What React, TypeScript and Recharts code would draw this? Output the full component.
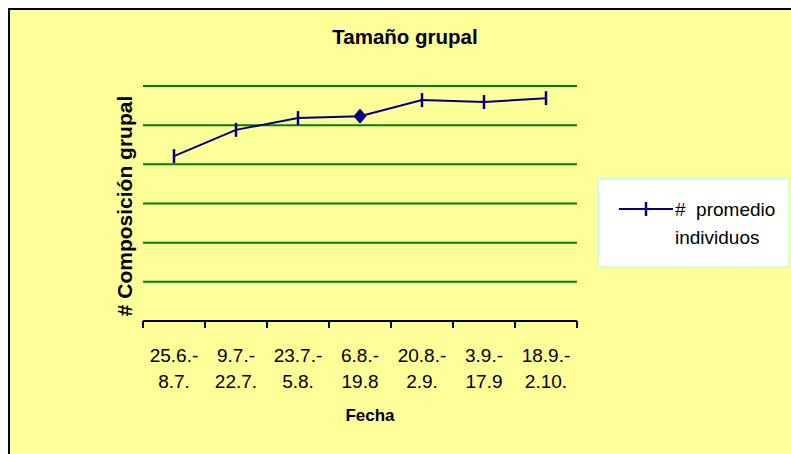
import React from 'react';
import { LineChart, Line, XAxis, YAxis, CartesianGrid } from 'recharts';

const periodStart = ['25.6.-', '9.7.-', '23.7.-', '6.8.-', '20.8.-', '3.9.-', '18.9.-'];
const periodEnd = ['8.7.', '22.7.', '5.8.', '19.8', '2.9.', '17.9', '2.10.'];
const promedioIndividuos = [4.21, 4.88, 5.18, 5.23, 5.64, 5.59, 5.69];
const yTicks = [0, 1, 2, 3, 4, 5, 6];

const NAVY = '#000080';
const FONT = '"Liberation Sans", Arial, sans-serif';

// category i sits in the middle of the band [i, i+1]
const data = promedioIndividuos.map((v, i) => ({
  pos: i + 0.5,
  promedio: v,
}));

// boundaries get a tick mark, band centres get the two-line label
const xTicks: number[] = [];
for (let i = 0; i <= periodStart.length; i++) {
  xTicks.push(i);
  if (i < periodStart.length) xTicks.push(i + 0.5);
}

const renderTick = (props: any) => {
  const { x, y, payload } = props;
  const v = payload.value;
  if (Number.isInteger(v)) {
    return <line x1={x} y1={y} x2={x} y2={y + 7} stroke="#000" strokeWidth={2} />;
  }
  const i = Math.floor(v);
  return (
    <text x={x} y={y} textAnchor="middle" fontSize={19} fontFamily={FONT} fill="#000">
      <tspan x={x} dy={41}>{periodStart[i]}</tspan>
      <tspan x={x} dy={26}>{periodEnd[i]}</tspan>
    </text>
  );
};

const renderDot = (props: any) => {
  const { cx, cy, index } = props;
  if (index === 3) {
    return (
      <polygon
        key={`d${index}`}
        points={`${cx},${cy - 7} ${cx + 6},${cy} ${cx},${cy + 7} ${cx - 6},${cy}`}
        fill={NAVY}
        stroke={NAVY}
      />
    );
  }
  return <line key={`d${index}`} x1={cx} y1={cy - 7} x2={cx} y2={cy + 7} stroke={NAVY} strokeWidth={2.5} />;
};

export default function App() {
  return (
    <div
      style={{
        position: 'absolute',
        left: 8,
        top: 8,
        width: 783,
        height: 446,
        boxSizing: 'border-box',
        borderLeft: '2px solid #000',
        borderTop: '2px solid #000',
        background: '#FFFF99',
        fontFamily: FONT,
        overflow: 'hidden',
      }}
    >
      <div
        style={{
          position: 'absolute',
          left: 395,
          top: 17,
          transform: 'translateX(-50%)',
          fontSize: 20.5,
          lineHeight: '20px',
          fontWeight: 'bold',
          whiteSpace: 'nowrap',
        }}
      >
        Tamaño grupal
      </div>
      <div
        style={{
          position: 'absolute',
          left: 114,
          top: 196,
          transform: 'translate(-50%, -50%) rotate(-90deg)',
          fontSize: 21,
          lineHeight: '21px',
          fontWeight: 'bold',
          whiteSpace: 'nowrap',
        }}
      >
        # Composición grupal
      </div>
      <div
        style={{
          position: 'absolute',
          left: 360,
          top: 397,
          transform: 'translateX(-50%)',
          fontSize: 17,
          lineHeight: '17px',
          fontWeight: 'bold',
          whiteSpace: 'nowrap',
        }}
      >
        Fecha
      </div>

      <div style={{ position: 'absolute', left: 0, top: 0 }}>
        <LineChart width={781} height={444} data={data} margin={{ top: 76, right: 214, left: 133, bottom: 73 }}>
          <CartesianGrid vertical={false} stroke="#008000" strokeWidth={2} />
          <YAxis hide type="number" domain={[0, 6]} ticks={yTicks} />
          <XAxis
            dataKey="pos"
            type="number"
            domain={[0, periodStart.length]}
            ticks={xTicks}
            interval={0}
            height={60}
            tick={renderTick}
            tickLine={false}
            tickSize={0}
            tickMargin={0}
            axisLine={{ stroke: '#000', strokeWidth: 2 }}
          />
          <Line
            type="linear"
            dataKey="promedio"
            stroke={NAVY}
            strokeWidth={2}
            dot={renderDot}
            activeDot={false}
            isAnimationActive={false}
          />
        </LineChart>
      </div>

      <div
        style={{
          position: 'absolute',
          left: 587,
          top: 168,
          width: 193,
          height: 90,
          boxSizing: 'border-box',
          border: '2px solid #CCFFDD',
          background: '#fff',
        }}
      >
        <svg width={60} height={20} style={{ position: 'absolute', left: 20, top: 19 }}>
          <line x1={0} y1={10} x2={54} y2={10} stroke={NAVY} strokeWidth={2} />
          <line x1={27} y1={3} x2={27} y2={17} stroke={NAVY} strokeWidth={2.5} />
        </svg>
        <div
          style={{
            position: 'absolute',
            left: 76,
            top: 16,
            fontSize: 19,
            lineHeight: '28px',
            whiteSpace: 'pre',
          }}
        >
          {'#  promedio\nindividuos'}
        </div>
      </div>
    </div>
  );
}
